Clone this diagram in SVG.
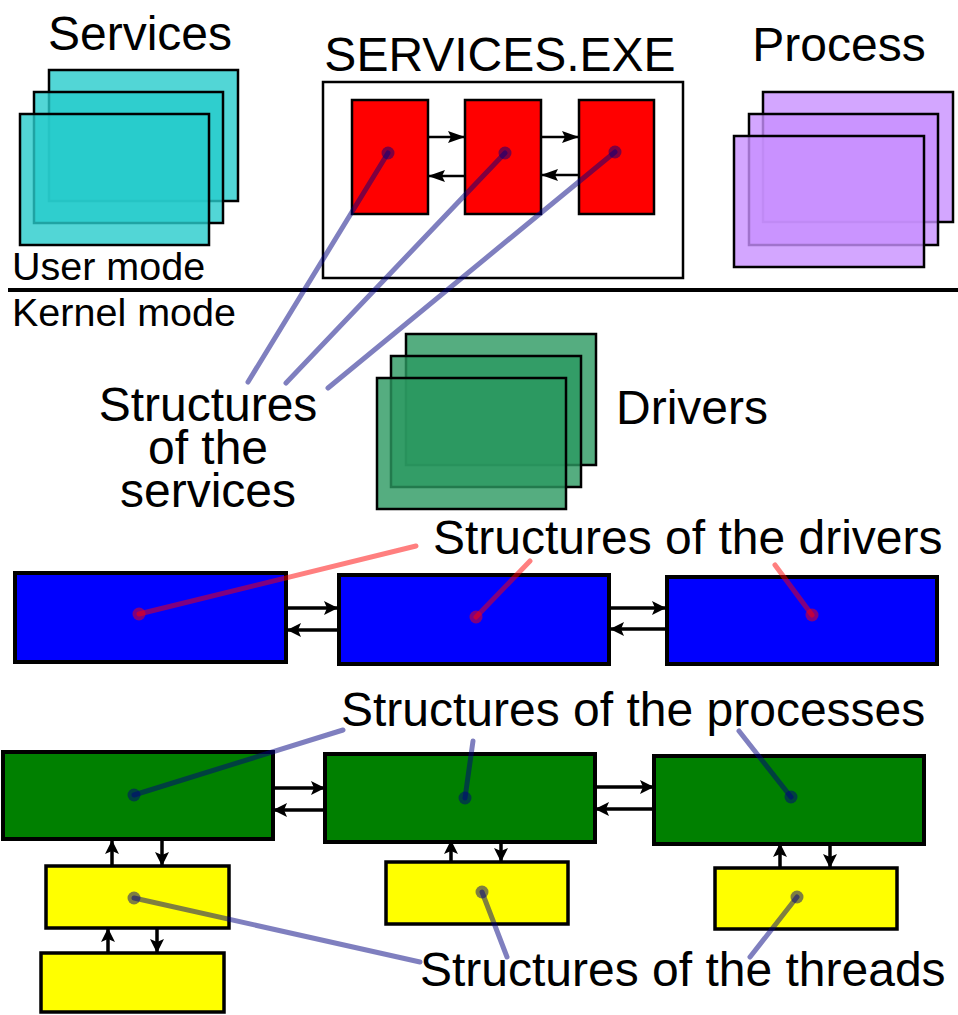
<svg xmlns="http://www.w3.org/2000/svg" width="958" height="1015" viewBox="0 0 958 1015">
<style>
.t{font-family:"Liberation Sans",Arial,sans-serif;fill:#000}
.big{font-size:48px}
.mode{font-size:39.5px}
.box{stroke:#000;stroke-width:2.5}
.cy{fill:#27cccc;fill-opacity:0.8}
.vi{fill:#c890ff;fill-opacity:0.8}
.gr{fill:#2a9960;fill-opacity:0.8}
.red{fill:#ff0000}
.blue{fill:#0000ff;stroke:#000;stroke-width:4}
.green{fill:#008000;stroke:#000;stroke-width:4}
.yel{fill:#ffff00;stroke:#000;stroke-width:3.5}
.ar{stroke:#000;stroke-width:3.5;fill:none;marker-end:url(#ah)}
.ars{stroke:#000;stroke-width:2.5;fill:none;marker-end:url(#ahs)}
.pn{stroke:#000080;stroke-opacity:0.5;stroke-width:5;stroke-linecap:round;fill:none}
.pr{stroke:#ff0000;stroke-opacity:0.5;stroke-width:5;stroke-linecap:round;fill:none}
.dn{fill:#000080;fill-opacity:0.5}
.dr{fill:#ff0000;fill-opacity:0.5}
</style>
<defs>
<marker id="ah" markerUnits="userSpaceOnUse" markerWidth="14" markerHeight="14" refX="14" refY="7" orient="auto"><path d="M0,0 L14,7 L0,14 L3,7 Z" fill="#000"/></marker>
<marker id="ahs" markerUnits="userSpaceOnUse" markerWidth="17" markerHeight="12" refX="17" refY="6" orient="auto"><path d="M0,0 L17,6 L0,12 L3,6 Z" fill="#000"/></marker>
</defs>
<rect width="958" height="1015" fill="#fff"/>

<g id="services">
<text class="t big" x="140" y="50" text-anchor="middle">Services</text>
<rect class="box cy" x="49" y="70" width="189" height="131"/>
<rect class="box cy" x="34" y="92" width="189" height="131"/>
<rect class="box cy" x="20" y="114" width="189" height="131"/>
</g>

<g id="services-exe">
<text class="t big" x="500" y="71" text-anchor="middle">SERVICES.EXE</text>
<rect class="box" x="323" y="82" width="360" height="196" fill="#fff"/>
</g>
<g id="svc1"><rect class="box red" x="352" y="100" width="76" height="114"/></g>
<g id="svc2"><rect class="box red" x="465" y="100" width="76" height="114"/></g>
<g id="svc3"><rect class="box red" x="579" y="100" width="75" height="114"/></g>

<g id="process">
<text class="t big" x="839" y="61" text-anchor="middle">Process</text>
<rect class="box vi" x="763" y="92" width="190" height="130"/>
<rect class="box vi" x="749" y="114" width="189" height="131"/>
<rect class="box vi" x="734" y="136" width="190" height="131"/>
</g>

<g id="mode-line">
<text class="t mode" x="12" y="280">User mode</text>
<line x1="8" y1="290" x2="958" y2="290" stroke="#000" stroke-width="4"/>
<text class="t mode" x="12" y="326">Kernel mode</text>
</g>

<g id="drivers">
<rect class="box gr" x="406" y="334" width="190" height="131"/>
<rect class="box gr" x="391" y="356" width="190" height="131"/>
<rect class="box gr" x="377" y="378" width="189" height="131"/>
<text class="t big" x="616" y="424">Drivers</text>
</g>

<g id="label-services">
<text class="t big" x="208" y="421" text-anchor="middle">Structures</text>
<text class="t big" x="208" y="464" text-anchor="middle">of the</text>
<text class="t big" x="208" y="507" text-anchor="middle">services</text>
</g>

<g id="drv1"><rect class="blue" x="15" y="573" width="271" height="89"/></g>
<g id="drv2"><rect class="blue" x="339" y="575" width="270" height="89"/></g>
<g id="drv3"><rect class="blue" x="667" y="577" width="270" height="87"/></g>

<g id="proc1"><rect class="green" x="3" y="752" width="270" height="87"/></g>
<g id="proc2"><rect class="green" x="325" y="754" width="270" height="88"/></g>
<g id="proc3"><rect class="green" x="654" y="756" width="270" height="88"/></g>

<g id="thr1"><rect class="yel" x="46" y="866" width="183" height="62"/></g>
<g id="thr2"><rect class="yel" x="41" y="953" width="183" height="59"/></g>
<g id="thr3"><rect class="yel" x="386" y="862" width="182" height="62"/></g>
<g id="thr4"><rect class="yel" x="715" y="868" width="182" height="61"/></g>

<g id="label-drivers"><text class="t big" x="433" y="554">Structures of the drivers</text></g>
<g id="label-processes"><text class="t big" x="341" y="726">Structures of the processes</text></g>
<g id="label-threads"><text class="t big" x="420" y="986">Structures of the threads</text></g>

<g id="connectors">
<line class="ars" x1="428" y1="137" x2="465" y2="137"/>
<line class="ars" x1="465" y1="176" x2="428" y2="176"/>
<line class="ars" x1="541" y1="137" x2="579" y2="137"/>
<line class="ars" x1="579" y1="175" x2="541" y2="175"/>

<line class="ar" x1="287" y1="608" x2="338" y2="608"/>
<line class="ar" x1="338" y1="630" x2="287" y2="630"/>
<line class="ar" x1="610" y1="608" x2="666" y2="608"/>
<line class="ar" x1="666" y1="629" x2="610" y2="629"/>

<line class="ar" x1="273" y1="788" x2="325" y2="788"/>
<line class="ar" x1="325" y1="810" x2="273" y2="810"/>
<line class="ar" x1="595" y1="787" x2="654" y2="787"/>
<line class="ar" x1="654" y1="809" x2="595" y2="809"/>

<line class="ar" x1="112" y1="866" x2="112" y2="840"/>
<line class="ar" x1="162" y1="840" x2="162" y2="866"/>
<line class="ar" x1="108" y1="953" x2="108" y2="928"/>
<line class="ar" x1="157" y1="928" x2="157" y2="953"/>
<line class="ar" x1="451" y1="862" x2="451" y2="840"/>
<line class="ar" x1="501" y1="842" x2="501" y2="862"/>
<line class="ar" x1="780" y1="868" x2="780" y2="843"/>
<line class="ar" x1="830" y1="844" x2="830" y2="868"/>

<circle class="dn" cx="388" cy="153" r="6.5"/>
<circle class="dn" cx="505" cy="153" r="6.5"/>
<circle class="dn" cx="615" cy="152" r="6.5"/>
<line class="pn" x1="388" y1="153" x2="248" y2="382"/>
<line class="pn" x1="505" y1="153" x2="286" y2="383"/>
<line class="pn" x1="615" y1="152" x2="328" y2="388"/>

<circle class="dr" cx="139" cy="614" r="6.5"/>
<circle class="dr" cx="476" cy="617" r="6.5"/>
<circle class="dr" cx="812" cy="615" r="6.5"/>
<line class="pr" x1="139" y1="614" x2="416" y2="546"/>
<line class="pr" x1="476" y1="617" x2="530" y2="561"/>
<line class="pr" x1="812" y1="615" x2="775" y2="565"/>

<circle class="dn" cx="134" cy="795" r="6.5"/>
<circle class="dn" cx="465" cy="798" r="6.5"/>
<circle class="dn" cx="791" cy="797" r="6.5"/>
<line class="pn" x1="134" y1="795" x2="343" y2="730"/>
<line class="pn" x1="465" y1="798" x2="473" y2="741"/>
<line class="pn" x1="791" y1="797" x2="739" y2="731"/>

<circle class="dn" cx="134" cy="898" r="6.5"/>
<circle class="dn" cx="482" cy="892" r="6.5"/>
<circle class="dn" cx="797" cy="897" r="6.5"/>
<line class="pn" x1="134" y1="898" x2="420" y2="962"/>
<line class="pn" x1="482" y1="892" x2="507" y2="957"/>
<line class="pn" x1="797" y1="897" x2="750" y2="957"/>
</g>
</svg>
